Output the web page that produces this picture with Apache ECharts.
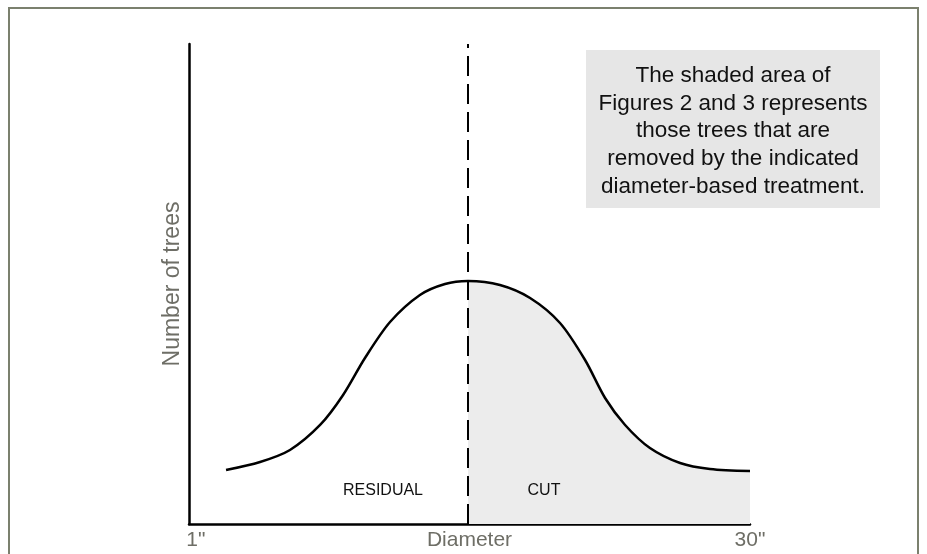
<!DOCTYPE html>
<html><head><meta charset="utf-8">
<script src="https://cdn.jsdelivr.net/npm/echarts@6/dist/echarts.min.js"></script>
<style>html,body{margin:0;padding:0;background:#fff}#c{width:927px;height:554px}</style>
</head><body><div id="c"></div>
<script>
// Diameter (x, 0..30) and relative number of trees (y, 0..100)
const curveX = [1.98, 3.8, 5.4, 7.01, 8.24, 9.41, 10.75, 12.35, 13.69, 14.92, 16.63, 18.24, 19.84, 21.18, 22.25, 23.32, 24.65, 26.26, 27.86, 30];
const curveY = [11.25, 12.92, 15.42, 20.63, 26.88, 34.58, 42.08, 47.71, 50.0, 50.63, 49.79, 47.08, 41.88, 34.17, 26.25, 20.63, 15.83, 12.71, 11.46, 11.04];
const cutoff = 14.92;
const tickValues = [0.37, 30];
const tickLabels = ['1"', '30"'];
const noteLines = ['The shaded area of', 'Figures 2 and 3 represents', 'those trees that are', 'removed by the indicated', 'diameter-based treatment.'];

const all = curveX.map((x, i) => [x, curveY[i]]);
const cut = all.filter(p => p[0] >= cutoff);
const gray = '#6e6e66';

const chart = echarts.init(document.getElementById('c'));
chart.setOption({
  animation: false,
  grid: { left: 189, right: 177, top: 44, bottom: 30, containLabel: false, outerBoundsMode: 'none' },
  xAxis: {
    type: 'value', min: 0, max: 30,
    axisLine: { show: true, lineStyle: { color: '#000', width: 2.5 } },
    axisTick: { show: false }, splitLine: { show: false },
    axisLabel: {
      customValues: tickValues, color: gray, fontSize: 21, fontFamily: 'Liberation Sans', margin: 6,
      showMinLabel: true, showMaxLabel: true,
      formatter: v => tickLabels[tickValues.indexOf(v)] || ''
    },
    name: 'Diameter', nameLocation: 'middle', nameGap: 6, nameMoveOverlap: false,
    nameTextStyle: { color: gray, fontSize: 21, fontFamily: 'Liberation Sans', verticalAlign: 'top' }
  },
  yAxis: {
    type: 'value', min: 0, max: 100,
    axisLine: { show: true, lineStyle: { color: '#000', width: 2.5 } },
    axisTick: { show: false }, splitLine: { show: false }, axisLabel: { show: false },
    name: 'Number of trees', nameLocation: 'middle', nameGap: 5, nameRotate: 90, nameMoveOverlap: false,
    nameTextStyle: { color: gray, fontSize: 23, fontFamily: 'Liberation Sans', verticalAlign: 'bottom' }
  },
  series: [
    {
      type: 'line', data: cut, smooth: 0.3, symbol: 'none',
      lineStyle: { width: 0 }, areaStyle: { color: '#ececec', opacity: 1 }, z: 1
    },
    {
      type: 'line', data: all, smooth: 0.3, symbol: 'none',
      lineStyle: { color: '#000', width: 2.5 }, z: 3,
      markLine: {
        silent: true, symbol: 'none', label: { show: false },
        lineStyle: { color: '#000', width: 2, type: [20, 8] },
        data: [{ xAxis: cutoff }]
      }
    }
  ],
  graphic: [
    { type: 'rect', shape: { x: 9, y: 8, width: 909, height: 580 }, style: { fill: 'none', stroke: '#7b806e', lineWidth: 2 } },
    { type: 'rect', shape: { x: 586, y: 50, width: 294, height: 158 }, style: { fill: '#e6e6e6' }, z: 10 },
    ...noteLines.map((t, i) => ({
      type: 'text', x: 733, y: 76 + i * 27.6, z: 11,
      style: { text: t, fill: '#111', fontSize: 22.5, fontFamily: 'Liberation Sans', textAlign: 'center', textVerticalAlign: 'middle' }
    })),
    { type: 'text', x: 383, y: 491, z: 11, style: { text: 'RESIDUAL', fill: '#111', fontSize: 16, fontFamily: 'Liberation Sans', textAlign: 'center', textVerticalAlign: 'middle' } },
    { type: 'text', x: 544, y: 491, z: 11, style: { text: 'CUT', fill: '#111', fontSize: 16, fontFamily: 'Liberation Sans', textAlign: 'center', textVerticalAlign: 'middle' } }
  ]
});
</script></body></html>
